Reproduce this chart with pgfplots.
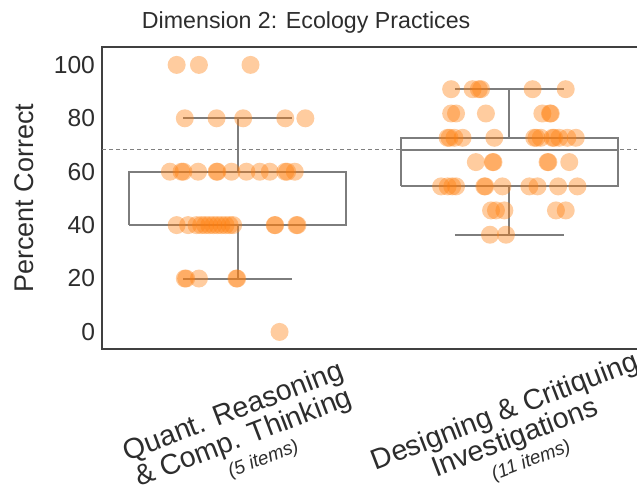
\documentclass[border=0pt]{standalone}
\usepackage{fontspec}
\setmainfont{Liberation Sans}
\usepackage{pgfplots}
\pgfplotsset{compat=1.18}
\definecolor{taborange}{RGB}{255,127,14}
\definecolor{txt}{RGB}{45,45,45}
\definecolor{boxgray}{RGB}{125,125,125}
\begin{document}
\begin{tikzpicture}
\useasboundingbox (0,0) rectangle (318.5pt,247.5pt);
\begin{axis}[
  at={(51pt,73pt)}, anchor=south west,
  scale only axis, width=271.5pt, height=151pt,
  xmin=-0.5, xmax=1.5, ymin=-6.4, ymax=106.7,
  axis line style={black!75, line width=1.1pt},
  major tick length=0pt,
  ytick={0,20,40,60,80,100},
  xtick={0,1},
  /pgf/number format/assume math mode=true,
  yticklabel style={font=\fontsize{12.3}{14}\selectfont, text=txt},
  xticklabels={{Quant. Reasoning\\\& Comp. Thinking\\[-2pt]\hspace*{11pt}{\fontsize{9.5}{11}\selectfont\itshape (5 items)}},
               {Designing \& Critiquing\\Investigations\\[-2pt]\hspace*{7pt}{\fontsize{9.5}{11}\selectfont\itshape (11 items)}}},
  xticklabel style={font=\fontsize{14.3}{14}\selectfont, text=txt, align=center, anchor=center, xshift=2.5pt, yshift=-43.5pt, rotate=21},
  every axis title shift=0pt,
  title={Dimension 2: Ecology Practices},
  title style={font=\fontsize{11.6}{13}\selectfont, text=txt, at={(axis description cs:0.376,1)}, anchor=base, yshift=9.5pt},
  ylabel={Percent Correct},
  ylabel style={font=\fontsize{13.5}{15}\selectfont, text=txt, at={(axis description cs:-0.1436,0.5)}, anchor=center},
  dot/.style={only marks, mark=*, mark size=4.5pt, mark options={draw opacity=0, fill=taborange, fill opacity=0.4}},
  bx/.style={draw=boxgray, line width=1pt, mark=none},
]
% dashed reference line
\addplot[gray, dash pattern=on 2pt off 1.5pt, line width=0.6pt] coordinates {(-0.5,68.4) (1.5,68.4)};
% left group points
\addplot[dot] coordinates {
(-0.225,100) (-0.143,100) (0.047,100)
(-0.195,80) (-0.078,80) (0.020,80) (0.175,80) (0.249,80)
(-0.25,60) (-0.207,60) (-0.20,60) (-0.146,60) (-0.078,60) (-0.075,60) (-0.023,60) (0.032,60) (0.081,60) (0.118,60) (0.175,60) (0.182,60) (0.210,60)
(-0.225,40) (-0.183,40) (-0.152,40) (-0.135,40) (-0.12,40) (-0.105,40) (-0.09,40) (-0.075,40) (-0.06,40) (-0.045,40) (-0.03,40) (-0.017,40) (0.136,40) (0.138,40) (0.216,40) (0.22,40)
(-0.195,20) (-0.19,20) (-0.143,20) (-0.005,20) (-0.002,20)
(0.154,0)
};
% right group points
\addplot[dot] coordinates {
(0.786,90.9) (0.865,90.9) (0.888,90.9) (0.896,90.9) (1.086,90.9) (1.208,90.9)
(0.786,81.8) (0.804,81.8) (0.914,81.8) (1.122,81.8) (1.150,81.8) (1.153,81.8)
(0.773,72.7) (0.780,72.7) (0.798,72.7) (0.828,72.7) (0.945,72.7) (1.092,72.7) (1.100,72.7) (1.116,72.7) (1.159,72.7) (1.165,72.7) (1.184,72.7) (1.214,72.7) (1.245,72.7)
(0.877,63.6) (0.939,63.6) (0.942,63.6) (1.141,63.6) (1.144,63.6) (1.221,63.6)
(0.749,54.5) (0.773,54.5) (0.790,54.5) (0.804,54.5) (0.908,54.5) (0.912,54.5) (0.975,54.5) (1.074,54.5) (1.104,54.5) (1.180,54.5) (1.251,54.5)
(0.933,45.5) (0.951,45.5) (0.982,45.5) (1.172,45.5) (1.208,45.5)
(0.929,36.4) (0.988,36.4)
};
% box plot, left (whiskers 20/80, quartiles 40/60, median 40)
\addplot[bx] coordinates {(-0.4,40) (0.4,40) (0.4,60) (-0.4,60) (-0.4,40)};
\addplot[bx] coordinates {(-0.4,40) (0.4,40)};
\addplot[bx] coordinates {(0,60) (0,80)};
\addplot[bx] coordinates {(0,40) (0,20)};
\addplot[bx] coordinates {(-0.2,80) (0.2,80)};
\addplot[bx] coordinates {(-0.2,20) (0.2,20)};
% box plot, right (whiskers 36.4/90.9, quartiles 54.5/72.7, median 68.2)
\addplot[bx] coordinates {(0.6,54.5) (1.4,54.5) (1.4,72.7) (0.6,72.7) (0.6,54.5)};
\addplot[bx] coordinates {(0.6,68.2) (1.4,68.2)};
\addplot[bx] coordinates {(1,72.7) (1,90.9)};
\addplot[bx] coordinates {(1,54.5) (1,36.4)};
\addplot[bx] coordinates {(0.8,90.9) (1.2,90.9)};
\addplot[bx] coordinates {(0.8,36.4) (1.2,36.4)};
\end{axis}
\end{tikzpicture}
\end{document}
